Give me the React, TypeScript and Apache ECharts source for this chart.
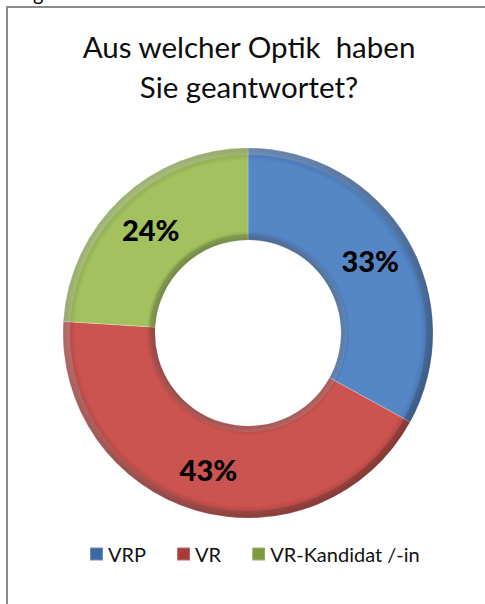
import React, { useEffect, useRef } from "react";
import * as echarts from "echarts";

const titleLines = ["Aus welcher Optik  haben", "Sie geantwortet?"];
const categories = ["VRP", "VR", "VR-Kandidat /-in"];
const shares = [33, 43, 24];
const baseColors = ["#5586C6", "#CB5450", "#A4C160"];
const rimColors = ["#3D6AA6", "#A53C39", "#7E9A3E"];

const CX = 248;
const CY = 333;
const R_OUT = 185;
const R_IN = 93;

export default function App() {
  const ref = useRef<HTMLDivElement>(null);
  useEffect(() => {
    if (!ref.current) return;
    const chart = echarts.init(ref.current, null, { renderer: "svg" });
    const font = "Lato, 'Open Sans', sans-serif";
    const radial = (i: number) => ({
      type: "radial",
      x: CX,
      y: CY,
      r: R_OUT,
      global: true,
      colorStops: [
        { offset: 0, color: baseColors[i] },
        { offset: R_IN / R_OUT, color: rimColors[i] },
        { offset: R_IN / R_OUT + 0.05, color: baseColors[i] },
        { offset: 0.93, color: baseColors[i] },
        { offset: 1, color: rimColors[i] },
      ],
    });
    const mainData = categories.map((c, i) => ({
      name: c,
      value: shares[i],
      itemStyle: { color: radial(i) },
    }));
    const plainData = categories.map((c, i) => ({ name: c, value: shares[i] }));
    const lightGrad = (a: string, b: string) => ({
      type: "linear",
      x: CX - R_OUT,
      y: CY - R_OUT,
      x2: CX + R_OUT,
      y2: CY + R_OUT,
      global: true,
      colorStops: [
        { offset: 0, color: a },
        { offset: 1, color: b },
      ],
    });
    const overlayBase = {
      type: "pie",
      center: [CX, CY],
      startAngle: 90,
      clockwise: true,
      silent: true,
      label: { show: false },
      labelLine: { show: false },
      emphasis: { disabled: true },
      legendHoverLink: false,
      data: plainData,
    };
    chart.setOption({
      animation: false,
      color: baseColors,
      graphic: [
        {
          type: "rect",
          shape: { x: 7, y: 7, width: 700, height: 800 },
          style: { fill: "none", stroke: "#8c8c8c", lineWidth: 2 },
          silent: true,
        },
        {
          type: "text",
          x: 33,
          y: -17,
          style: { text: "g", font: "20px Lato, sans-serif", fill: "#000" },
          silent: true,
        },
        ...titleLines.map((t, i) => ({
          type: "text",
          x: 249,
          y: 31 + i * 40,
          style: {
            text: t,
            font: `29.5px ${font}`,
            fill: "#0d0d0d",
            textAlign: "center",
            textVerticalAlign: "top",
          },
          silent: true,
        })),
      ],
      legend: {
        data: categories,
        left: 84,
        top: 539,
        icon: "rect",
        itemWidth: 13,
        itemHeight: 13,
        itemGap: 30,
        textStyle: { fontSize: 20, fontFamily: font, color: "#111", padding: [2, 0, 0, 0] },
        selectedMode: false,
      },
      series: [
        {
          type: "pie",
          name: "Optik",
          center: [CX, CY],
          radius: [R_IN, R_OUT],
          startAngle: 90,
          clockwise: true,
          avoidLabelOverlap: false,
          label: {
            show: true,
            position: "inside",
            formatter: "{c}%",
            fontSize: 29,
            fontWeight: 900,
            fontFamily: font,
            color: "#000",
          },
          labelLine: { show: false },
          itemStyle: { borderColor: "rgba(255,255,255,0.25)", borderWidth: 1 },
          data: mainData,
        },
        {
          ...overlayBase,
          radius: [R_OUT - 7, R_OUT],
          itemStyle: { color: lightGrad("rgba(255,255,255,0.35)", "rgba(0,0,0,0.25)") },
        },
        {
          ...overlayBase,
          radius: [R_IN, R_IN + 6],
          itemStyle: { color: lightGrad("rgba(0,0,0,0.22)", "rgba(255,255,255,0.3)") },
        },
      ],
    });
    return () => chart.dispose();
  }, []);
  return (
    <div
      ref={ref}
      style={{ position: "fixed", left: 0, top: 0, width: 485, height: 604, background: "#fff" }}
    />
  );
}
